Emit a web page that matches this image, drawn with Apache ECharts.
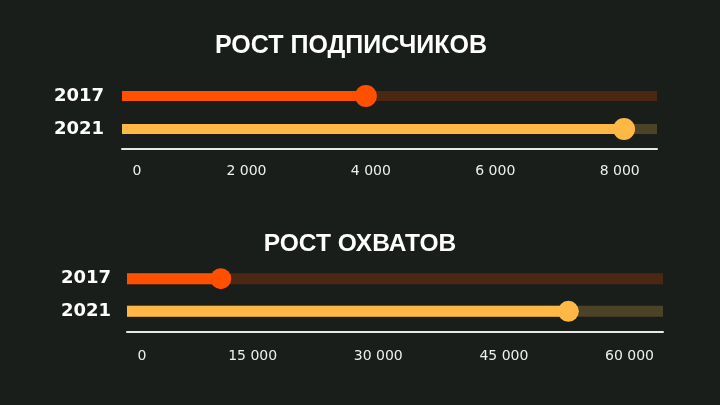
<!DOCTYPE html>
<html>
<head>
<meta charset="utf-8">
<script src="https://cdn.jsdelivr.net/npm/echarts@6/dist/echarts.min.js"></script>
<style>
html,body{margin:0;padding:0;background:#1a1e1b;}
#c{width:720px;height:405px;}
</style>
</head>
<body>
<div id="c"></div>
<script>
// ---- data ----
var years = ['2017', '2021'];
var subscribers = [3920, 8070];
var subscribersScale = [8600, 8600];
var reach = [11200, 52700];
var reachScale = [64000, 64000];
var subscriberTicks = [0, 2000, 4000, 6000, 8000];
var reachTicks = [0, 15000, 30000, 45000, 60000];
var titles = ['РОСТ ПОДПИСЧИКОВ', 'РОСТ ОХВАТОВ'];

var barColors = ['#ff5000', '#ffb845'];
var trackColors = ['#4b2814', '#4c4227'];

function fmt(v) {
  return String(v).replace(/\B(?=(\d{3})+(?!\d))/g, ' ');
}

function xAxisFor(idx, ticks, max, offset, margin) {
  return {
    type: 'value', gridIndex: idx, min: 0, max: max,
    interval: ticks[1] - ticks[0],
    offset: offset,
    splitLine: { show: false },
    axisTick: { show: false },
    axisLine: { show: true, lineStyle: { color: '#e8e8e8', width: 2 } },
    axisLabel: {
      color: '#eeeeee', fontFamily: 'DejaVu Sans', fontSize: 14, margin: margin,
      showMaxLabel: false,
      formatter: function (v) {
        if (ticks.indexOf(v) < 0) return '';
        return v === 0 ? '{z|0}' : fmt(v);
      },
      rich: { z: { padding: [0, 0, 0, 30], color: '#eeeeee', fontFamily: 'DejaVu Sans', fontSize: 14 } }
    }
  };
}

function yAxisFor(idx, margin) {
  return {
    type: 'category', gridIndex: idx, data: years, inverse: true,
    axisLine: { show: false }, axisTick: { show: false },
    axisLabel: { color: '#ffffff', fontFamily: 'DejaVu Sans', fontWeight: 'bold', fontSize: 18, margin: margin }
  };
}

function seriesFor(idx, values, scale, barW, dotSize) {
  return [
    {
      type: 'bar', xAxisIndex: idx, yAxisIndex: idx, barWidth: barW, barGap: '-100%',
      silent: true,
      data: scale.map(function (v, i) { return { value: v, itemStyle: { color: trackColors[i] } }; })
    },
    {
      type: 'bar', xAxisIndex: idx, yAxisIndex: idx, barWidth: barW, barGap: '-100%',
      data: values.map(function (v, i) { return { value: v, itemStyle: { color: barColors[i] } }; })
    },
    {
      type: 'scatter', xAxisIndex: idx, yAxisIndex: idx, symbol: 'circle', symbolSize: dotSize, z: 5,
      itemStyle: { opacity: 1 },
      data: values.map(function (v, i) { return { value: [v, years[i]], itemStyle: { color: barColors[i], opacity: 1 } }; })
    }
  ];
}

var chart = echarts.init(document.getElementById('c'));
chart.setOption({
  backgroundColor: '#1a1e1b',
  animation: false,
  title: [
    { text: titles[0], left: 346, top: 29, textAlign: 'center',
      textStyle: { color: '#ffffff', fontFamily: 'Liberation Sans', fontWeight: 'bold', fontSize: 25 } },
    { text: titles[1], left: 355, top: 227, textAlign: 'center',
      textStyle: { color: '#ffffff', fontFamily: 'Liberation Sans', fontWeight: 'bold', fontSize: 24.5 } }
  ],
  grid: [
    { left: 122, right: 63, top: 79.5, height: 66 },
    { left: 127, right: 57, top: 262.4, height: 65.2 }
  ],
  xAxis: [
    xAxisFor(0, subscriberTicks, subscribersScale[0], 3, 16),
    xAxisFor(1, reachTicks, reachScale[0], 4, 18)
  ],
  yAxis: [yAxisFor(0, 18), yAxisFor(1, 16)],
  series: [].concat(
    seriesFor(0, subscribers, subscribersScale, 10, 22),
    seriesFor(1, reach, reachScale, 11, 21)
  )
});
</script>
</body>
</html>
